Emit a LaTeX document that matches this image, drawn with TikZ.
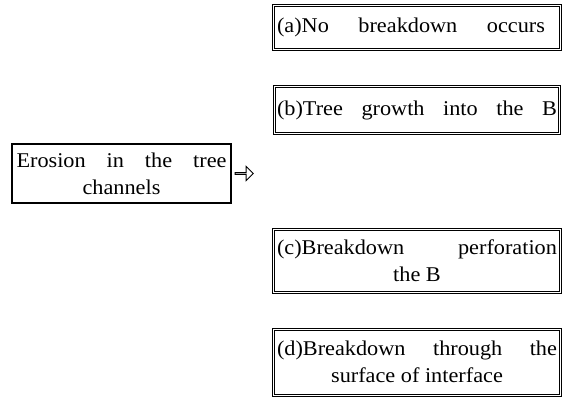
\documentclass[tikz,border=0pt]{standalone}
\usepackage{fontspec}
\setmainfont{Liberation Serif}[FakeStretch=1.06]
\usetikzlibrary{shapes.arrows}
\begin{document}
\begin{tikzpicture}[x=1pt,y=-1pt,
  txt/.style={font=\fontsize{21}{27}\selectfont, inner sep=0pt},
  dbox/.style={txt, draw, line width=0.7pt, align=center},
  ebox/.style={txt, draw, line width=1.4pt, align=center},
  inner/.style={draw, line width=0.6pt},
  harrow/.style={single arrow, draw, line width=0.9pt, minimum height=18pt, minimum width=14pt,
    single arrow head extend=3pt, single arrow tip angle=90, inner sep=0pt}]
\useasboundingbox (0,0) rectangle (568,397);
\node[ebox, minimum width=219pt, minimum height=59pt] (ero) at (121.5,173.5)
  {\makebox[210pt][s]{Erosion in the tree}\\channels};
\node[harrow, anchor=west] (arr) at ([xshift=3pt]ero.east) {};
\node[dbox, minimum width=289pt, minimum height=46pt] (a) at (417,27)
  {\makebox[280pt][l]{\makebox[268pt][s]{(a)No breakdown occurs}}};
\node[dbox, minimum width=287pt, minimum height=49pt] (b) at (417,110)
  {\makebox[280pt][s]{(b)Tree growth into the B}};
\node[dbox, minimum width=289pt, minimum height=65pt] (c) at (417,260.5)
  {\makebox[280pt][s]{(c)Breakdown perforation}\\the B};
\node[dbox, minimum width=289pt, minimum height=68pt] (d) at (417,362)
  {\makebox[280pt][s]{(d)Breakdown through the}\\surface of interface};
\foreach \n in {a,b,c,d}
  \draw[inner] ([shift={(2.2pt,-2.2pt)}]\n.north west) rectangle ([shift={(-2.2pt,2.2pt)}]\n.south east);
\end{tikzpicture}
\end{document}
